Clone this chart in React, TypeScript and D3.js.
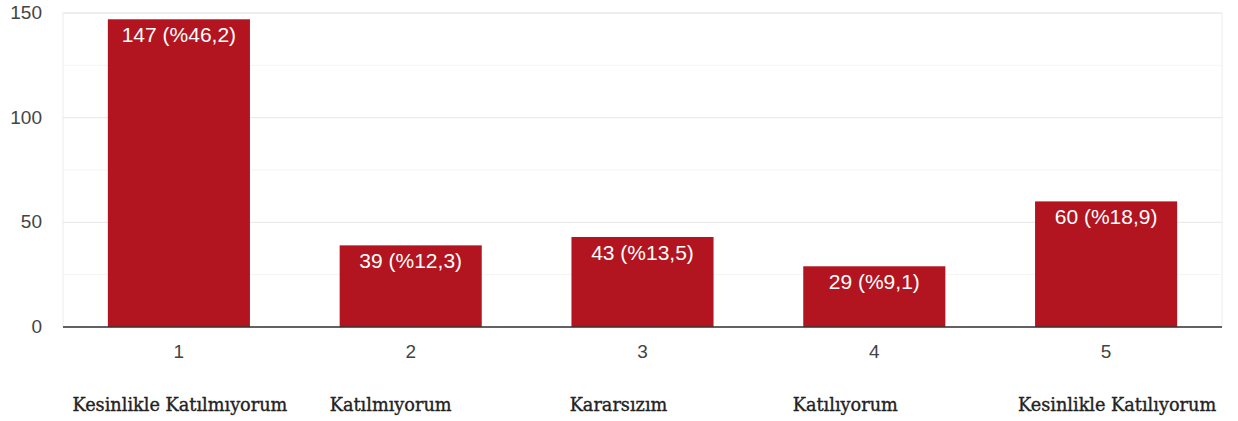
import React from "react";
import * as d3 from "d3";

const categories = ["1", "2", "3", "4", "5"];
const values = [147, 39, 43, 29, 60];
const valueLabels = ["147 (%46,2)", "39 (%12,3)", "43 (%13,5)", "29 (%9,1)", "60 (%18,9)"];
const categoryNames = [
  "Kesinlikle Katılmıyorum",
  "Katılmıyorum",
  "Kararsızım",
  "Katılıyorum",
  "Kesinlikle Katılıyorum",
];
const majorTicks = [0, 50, 100, 150];
const minorTicks = [25, 75, 125];
// horizontal offset of each long name's centre from its band centre (layout)
const nameOffsets = [1, -20, -24, -29, 11];

const W = 1238;
const H = 421;
const M = { left: 63, right: 1222, top: 13, bottom: 327 };

export default function App() {
  const x = d3.scaleBand<string>().domain(categories).range([M.left, M.right]).paddingInner(0.387).paddingOuter(0.1935);
  const y = d3.scaleLinear().domain([0, 150]).range([M.bottom, M.top]);
  const font = "Arial, 'Liberation Sans', sans-serif";

  return (
    <svg width={W} height={H} style={{ position: "absolute", left: 0, top: 0, background: "#fff" }}>
      <rect x={M.left} y={M.top} width={M.right - M.left} height={M.bottom - M.top} fill="none" stroke="#ececec" strokeWidth={1} />
      {minorTicks.map((t) => (
        <line key={"m" + t} x1={M.left} x2={M.right} y1={y(t)} y2={y(t)} stroke="#f4f4f4" strokeWidth={1} />
      ))}
      {majorTicks.map((t) => (
        <line key={"g" + t} x1={M.left} x2={M.right} y1={y(t)} y2={y(t)} stroke="#e6e6e6" strokeWidth={1} />
      ))}
      {majorTicks.map((t) => (
        <text key={"t" + t} x={42} y={y(t) - 1} dy="0.36em" textAnchor="end" fontFamily={font} fontSize={19} fill="#444">
          {t}
        </text>
      ))}
      {categories.map((c, i) => (
        <g key={c}>
          <rect x={x(c)} y={y(values[i])} width={x.bandwidth()} height={y(0) - y(values[i])} fill="#b2151f" />
          <text
            x={(x(c) as number) + x.bandwidth() / 2}
            y={y(values[i]) + 23}
            textAnchor="middle"
            fontFamily={font}
            fontSize={21}
            fill="#fff"
          >
            {valueLabels[i]}
          </text>
          <text
            x={(x(c) as number) + x.bandwidth() / 2}
            y={358}
            textAnchor="middle"
            fontFamily={font}
            fontSize={19}
            fill="#444"
          >
            {c}
          </text>
          <text
            x={(x(c) as number) + x.bandwidth() / 2 + nameOffsets[i]}
            y={411}
            textAnchor="middle"
            fontFamily="'DejaVu Serif', serif"
            fontSize={17.7}
            fill="#222"
            stroke="#222"
            strokeWidth={0.35}
          >
            {categoryNames[i]}
          </text>
        </g>
      ))}
      <line x1={M.left} x2={M.right} y1={y(0)} y2={y(0)} stroke="#333" strokeWidth={1.5} />
    </svg>
  );
}
